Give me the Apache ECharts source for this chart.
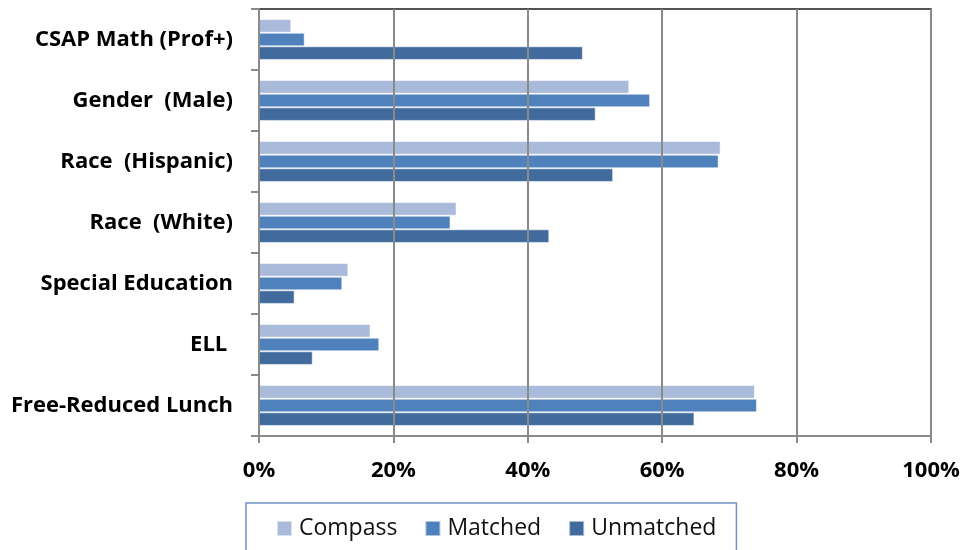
<!DOCTYPE html>
<html>
<head>
<meta charset="utf-8">
<script src="https://cdn.jsdelivr.net/npm/echarts@6/dist/echarts.min.js"></script>
<style>
  html, body { margin: 0; padding: 0; background: #fff; }
  #chart { width: 964px; height: 550px; }
</style>
</head>
<body>
<div id="chart"></div>
<script>
// Student groups (top to bottom)
const categories = [
  'CSAP Math (Prof+)',
  'Gender  (Male)',
  'Race  (Hispanic)',
  'Race  (White)',
  'Special Education',
  'ELL ',
  'Free-Reduced Lunch'
];

// Share of students in each group, percent
const compass   = [4.8, 55.1, 68.7, 29.4, 13.3, 16.6, 73.8];
const matched   = [6.8, 58.2, 68.4, 28.5, 12.4, 17.9, 74.1];
const unmatched = [48.2, 50.1, 52.7, 43.2, 5.3, 8.0, 64.8];

const seriesNames = ['Compass', 'Matched', 'Unmatched'];
const seriesColors = ['#AABADA', '#4F81BD', '#416B9D'];

const FONT = '"Open Sans", Lato, sans-serif';

const chart = echarts.init(document.getElementById('chart'), null, { renderer: 'canvas' });

function barSeries(name, data, color) {
  return {
    name: name,
    type: 'bar',
    data: data,
    barGap: '0%',
    barCategoryGap: '33%',
    itemStyle: { color: color, borderColor: 'rgba(255,255,255,0.55)', borderWidth: 1 },
    z: 2
  };
}

chart.setOption({
  animation: false,
  backgroundColor: '#ffffff',
  textStyle: { fontFamily: FONT },
  grid: {
    left: 259, right: 33, top: 9, bottom: 114,
    show: true,
    backgroundColor: 'transparent',
    borderColor: '#1a1a1a',
    borderWidth: 1.5,
    z: 3
  },
  legend: {
    data: seriesNames,
    left: 246,
    top: 503,
    orient: 'horizontal',
    padding: [14, 20, 40, 30],
    borderColor: '#6F93C6',
    borderWidth: 1.5,
    itemWidth: 15,
    itemHeight: 15,
    itemGap: 27,
    icon: 'rect',
    textStyle: { fontFamily: FONT, fontSize: 23, color: '#111', padding: [0, 0, 0, 2] }
  },
  xAxis: {
    type: 'value',
    min: 0,
    max: 100,
    interval: 20,
    z: 4,
    axisLine: { show: true, lineStyle: { color: '#8a8a8a', width: 2 } },
    axisTick: { show: true, length: 7, lineStyle: { color: '#8a8a8a', width: 2 } },
    splitLine: { show: true, lineStyle: { color: '#8a8a8a', width: 2 } },
    axisLabel: {
      formatter: '{value}%',
      fontFamily: FONT,
      fontWeight: 'bold',
      fontSize: 22,
      color: '#000',
      margin: 24
    }
  },
  yAxis: {
    type: 'category',
    data: categories,
    inverse: true,
    z: 4,
    axisLine: { show: true, lineStyle: { color: '#8a8a8a', width: 2 } },
    axisTick: { show: true, length: 8, lineStyle: { color: '#8a8a8a', width: 2 } },
    splitLine: { show: false },
    axisLabel: {
      fontFamily: FONT,
      fontWeight: 'bold',
      fontSize: 22,
      color: '#000',
      margin: 26
    }
  },
  series: [
    barSeries(seriesNames[0], compass, seriesColors[0]),
    barSeries(seriesNames[1], matched, seriesColors[1]),
    barSeries(seriesNames[2], unmatched, seriesColors[2])
  ]
});
</script>
</body>
</html>
